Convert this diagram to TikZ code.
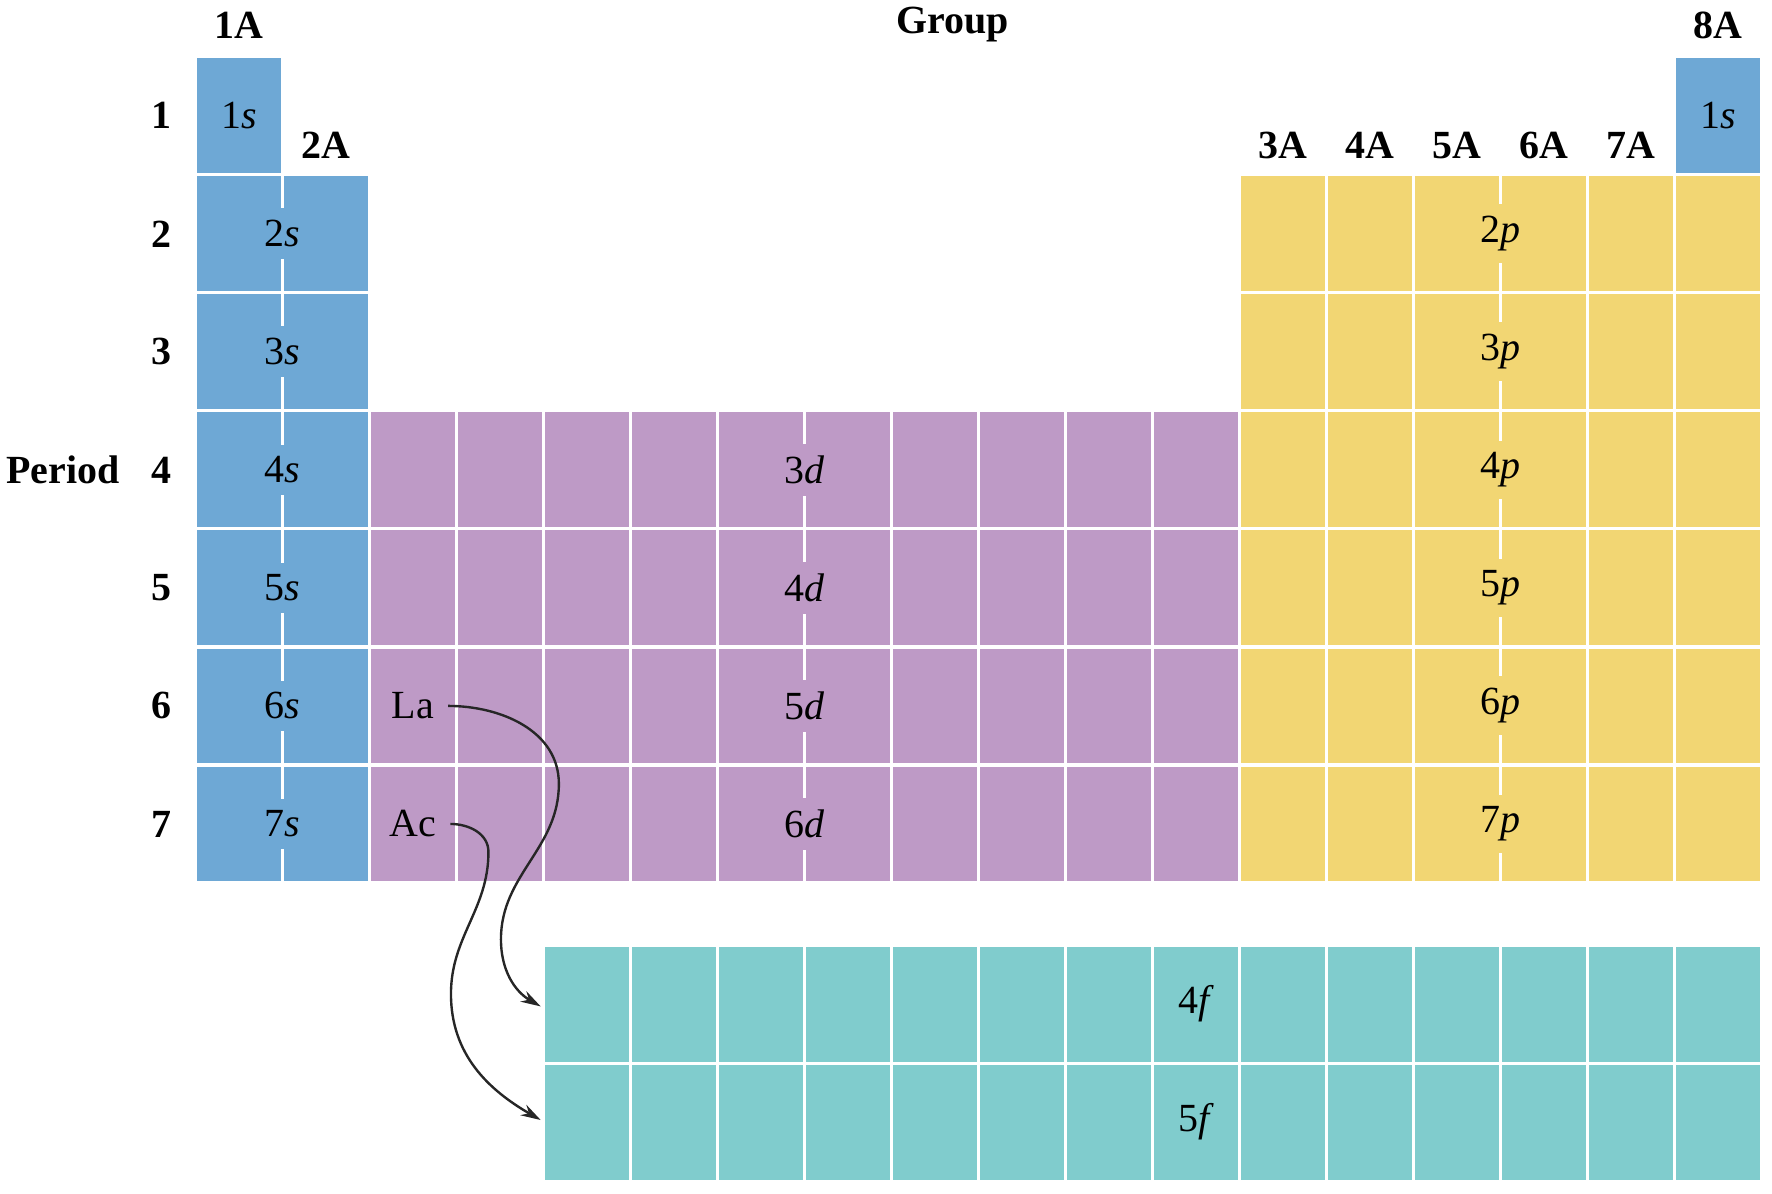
\documentclass[tikz,border=0pt]{standalone}
\usepackage{fontspec}
\setmainfont{Liberation Serif}
\usetikzlibrary{positioning,arrows.meta}
\definecolor{sblock}{RGB}{110,168,213}
\definecolor{dblock}{RGB}{190,154,198}
\definecolor{pblock}{RGB}{242,214,115}
\definecolor{fblock}{RGB}{128,204,205}
\tikzset{
  cell/.style={draw=white, line width=0.8pt},
  orb/.style={inner xsep=1pt, inner ysep=3pt},
  grp/.style={font=\bfseries},
  jump/.style={-{Stealth[length=5pt,width=3pt]}, draw=black!85, line width=0.6pt},
}
\newcommand{\orbital}[2]{#1\textit{#2}}

\begin{document}
\begin{tikzpicture}
\useasboundingbox (0,0) rectangle (15.60,-10.511);
\begin{scope}[shift={(1.72,-0.50)}, x=0.766cm, y=-1.039cm]
% s block
\foreach \r in {0,...,6} \path[cell, fill=sblock] (0,\r) rectangle ++(1,1);
\foreach \r in {1,...,6} \path[cell, fill=sblock] (1,\r) rectangle ++(1,1);
\path[cell, fill=sblock] (17,0) rectangle ++(1,1);
% d block
\foreach \c in {2,...,11} \foreach \r in {3,...,6} \path[cell, fill=dblock] (\c,\r) rectangle ++(1,1);
% p block
\foreach \c in {12,...,17} \foreach \r in {1,...,6} \path[cell, fill=pblock] (\c,\r) rectangle ++(1,1);
% f block
\foreach \c in {4,...,17} \foreach \r in {0,1} \path[cell, fill=fblock] (\c,7.527+\r) rectangle ++(1,1);
% orbital labels
\node[orb, fill=sblock] (s1a) at (0.5,0.5) {\orbital{1}{s}};
\node[orb, fill=sblock] (s1b) at (17.5,0.5) {\orbital{1}{s}};
\foreach \n in {2,...,7} \node[orb, fill=sblock] (s\n) at (1,\n-0.5) {\orbital{\n}{s}};
\foreach \n in {3,...,6} \node[orb, fill=dblock] (d\n) at (7,\n+0.5) {\orbital{\n}{d}};
\foreach \n in {2,...,7} \node[orb, fill=pblock] (p\n) at (15,\n-0.5) {\orbital{\n}{p}};
\node[orb, fill=fblock] (f4) at (11.5,8.027) {\orbital{4}{f}};
\node[orb, fill=fblock] (f5) at (11.5,9.027) {\orbital{5}{f}};
\node (La) at (2.5,5.5) {La};
\node (Ac) at (2.5,6.5) {Ac};
% groups
\node[grp] (g1) at (0.5,-0.27) {1A};
\node[grp] (grp) at (8.70,-0.27) {Group};
\node[grp] (g18) at (17.5,-0.27) {8A};
\node[grp] (g2) at (1.5,0.75) {2A};
\foreach \g [count=\i from 12] in {3,...,7} \node[grp] (g\i) at (\i+0.5,0.75) {\g A};
% periods
\foreach \n in {1,...,7} \node[grp] (per\n) at (-0.39,\n-0.5) {\n};
\node[grp, left=1pt of per4] (period) {Period};
\end{scope}
% La and Ac go down to the f rows
\coordinate (la1) at (4.92,-6.90);
\coordinate (la2) at (4.41,-8.27);
\coordinate (la3) at (4.76,-8.86);
\coordinate (ac1) at (4.30,-7.50);
\coordinate (ac2) at (3.97,-8.75);
\coordinate (ac3) at (4.76,-9.86);
\draw[jump] (La.east) to[out=0,in=90] (la1) to[out=-90,in=90] (la2) to[out=-90,in=150] (la3);
\draw[jump] (Ac.east) to[out=0,in=90] (ac1) to[out=-90,in=90] (ac2) to[out=-90,in=150] (ac3);
\end{tikzpicture}
\end{document}
